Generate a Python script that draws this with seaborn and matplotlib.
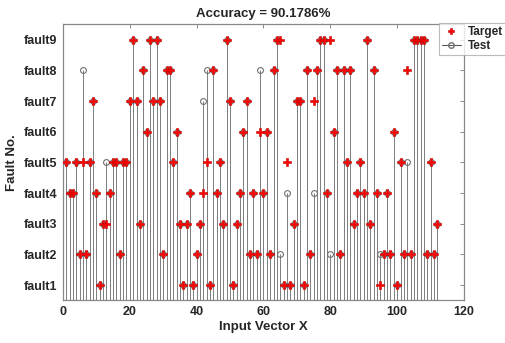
import matplotlib

matplotlib.use("Agg")
import matplotlib.pyplot as plt
import numpy as np
import pandas as pd
import seaborn as sns
from matplotlib.legend_handler import HandlerLine2D
from matplotlib.lines import Line2D

# fault class (1..9) of each input vector
target = [
    5, 4, 4, 5, 2, 5, 2, 5, 7, 4,
    1, 3, 3, 4, 5, 5, 2, 5, 5, 7,
    9, 7, 3, 8, 6, 9, 7, 9, 7, 2,
    8, 8, 5, 6, 3, 1, 3, 4, 1, 2,
    3, 4, 5, 1, 8, 4, 5, 3, 9, 7,
    1, 3, 4, 6, 7, 2, 4, 2, 6, 4,
    6, 2, 8, 9, 9, 1, 5, 1, 3, 7,
    7, 1, 8, 2, 7, 8, 9, 9, 4, 9,
    6, 8, 2, 8, 5, 8, 3, 4, 5, 4,
    9, 3, 8, 4, 1, 2, 4, 2, 6, 1,
    5, 2, 8, 2, 9, 9, 9, 9, 2, 5,
    2, 3,
]
# vectors where the classifier output differs from the target
wrong_index = [6, 13, 42, 43, 59, 65, 67, 75, 80, 95, 103]
wrong_class = [8, 5, 7, 8, 8, 2, 4, 4, 2, 2, 5]
fault_labels = ["fault1", "fault2", "fault3", "fault4", "fault5",
                "fault6", "fault7", "fault8", "fault9"]

df = pd.DataFrame({"x": np.arange(1, len(target) + 1), "target": target})
df["test"] = df["target"]
df.loc[df["x"].isin(wrong_index), "test"] = pd.Series(wrong_class, index=[i - 1 for i in wrong_index])
accuracy = (df["test"] == df["target"]).mean() * 100


class HandlerStem(HandlerLine2D):
    """Legend handle drawn as a line with the marker at its right end."""

    def get_xdata(self, legend, xdescent, ydescent, width, height, fontsize):
        return [-xdescent, -xdescent + width], [-xdescent + width]


sns.set_theme(style="white")
plt.rcParams["font.family"] = ["Liberation Sans", "DejaVu Sans"]
plt.rcParams["font.weight"] = "bold"

fig = plt.figure(figsize=(5.06, 3.43), dpi=100)
ax = fig.add_axes([0.1245, 0.124, 0.7925, 0.805])

ax.vlines(df["x"], 0, df["test"], color="#5a5a5a", linewidth=0.55, zorder=1)
ax.plot(df["x"], df["test"], linestyle="none", marker="o", markersize=4.2,
        markerfacecolor="none", markeredgecolor="#707070", markeredgewidth=0.8, zorder=2)
sns.scatterplot(data=df, x="x", y="target", marker="P", s=30, color="#ff0000",
                edgecolor="#c00000", linewidth=0.4, ax=ax, zorder=3, legend=False)

ax.set_xlim(0, 120)
ax.set_ylim(0.5, 9.5)
ax.set_xticks(range(0, 121, 20))
ax.set_yticks(range(1, 10))
ax.set_yticklabels(fault_labels)
ax.tick_params(direction="in", length=3, width=0.6, color="#777777",
               top=True, right=True, labelsize=9, pad=4)
for spine in ax.spines.values():
    spine.set_color("#888888")
    spine.set_linewidth(0.9)

ax.set_title(f"Accuracy = {accuracy:.4f}%", fontsize=9.5, fontweight="bold", pad=5)
ax.set_xlabel("Input Vector X", fontsize=9.5, fontweight="bold", labelpad=2)
ax.set_ylabel("Fault No.", fontsize=9.5, fontweight="bold", labelpad=4)

h_target = Line2D([], [], linestyle="none", marker="P", markersize=5,
                  color="#ff0000", markeredgecolor="#c00000", markeredgewidth=0.4)
h_test = Line2D([], [], color="#5a5a5a", linewidth=0.8, marker="o", markersize=4,
                markerfacecolor="none", markeredgecolor="#707070")
leg = fig.legend([h_target, h_test], ["Target", "Test"], loc="upper right",
                 bbox_to_anchor=(1.0, 0.933), fontsize=8.5, frameon=True, fancybox=False,
                 handlelength=1.6, handletextpad=0.6, borderpad=0.25, labelspacing=0.15,
                 borderaxespad=0, handler_map={h_test: HandlerStem()})
leg.get_frame().set_edgecolor("#aaaaaa")
leg.get_frame().set_linewidth(0.8)
for text in leg.get_texts():
    text.set_fontweight("bold")

fig.savefig("out.png", dpi=100)
